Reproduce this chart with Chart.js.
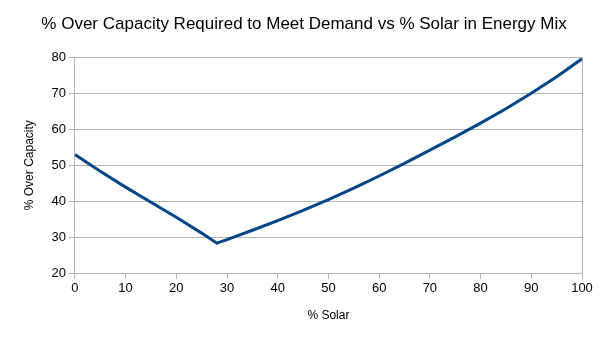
<!DOCTYPE html>
<html>
<head>
<meta charset="utf-8">
<script src="https://cdn.jsdelivr.net/npm/chart.js@4/dist/chart.umd.min.js"></script>
<style>
  html, body { margin: 0; padding: 0; background: #fff; }
  #wrap { width: 605px; height: 340px; }
</style>
</head>
<body>
<div id="wrap"><canvas id="chart"></canvas></div>
<script>
// % solar in the mix and % over capacity needed
const solarPct = [0, 5, 10, 15, 20, 25, 28, 30, 35, 40, 45, 50, 55, 60, 65, 70, 75, 80, 85, 90, 95, 100]
const overCapacity = [53, 48.3, 43.9, 39.7, 35.5, 31.1, 28.3, 29.3, 31.9, 34.6, 37.4, 40.4, 43.6, 47, 50.5, 54.2, 57.9, 61.7, 65.7, 70, 74.6, 79.6]
const xTicks = [0, 10, 20, 30, 40, 50, 60, 70, 80, 90, 100]
const yTicks = [20, 30, 40, 50, 60, 70, 80]

const pts = solarPct.map((x, i) => ({ x: x, y: overCapacity[i] }))
const font = 'Liberation Sans, Arial, sans-serif'
const grey = '#b3b3b3'

const ctx = document.getElementById('chart').getContext('2d')
new Chart(ctx, {
    type: 'scatter',
    data: {
        datasets: [{
            data: pts,
            showLine: true,
            borderColor: '#004586',
            borderWidth: 3,
            pointRadius: 0,
            tension: 0
        }]
    },
    options: {
        responsive: true,
        maintainAspectRatio: false,
        animation: false,
        layout: { padding: { left: 18, right: 15, top: 0, bottom: 13 } },
        plugins: {
            legend: { display: false },
            tooltip: { enabled: false },
            title: {
                display: true,
                text: '% Over Capacity Required to Meet Demand vs % Solar in Energy Mix',
                color: '#000',
                font: { family: font, size: 17, weight: 'normal' },
                padding: { top: 14, bottom: 23 }
            }
        },
        scales: {
            x: {
                type: 'linear',
                min: 0, max: 100,
                afterBuildTicks: axis => { axis.ticks = xTicks.map(v => ({ value: v })) },
                grid: { display: true, drawOnChartArea: false, color: grey, tickLength: 6 },
                border: { color: grey },
                ticks: { color: '#000', font: { family: font, size: 13 }, padding: 2, maxRotation: 0 },
                title: { display: true, text: '% Solar', color: '#000', font: { family: font, size: 12 }, padding: { top: 10 } }
            },
            y: {
                min: 20, max: 80,
                afterBuildTicks: axis => { axis.ticks = yTicks.map(v => ({ value: v })) },
                grid: { color: grey, tickLength: 6 },
                border: { color: grey },
                ticks: { color: '#000', font: { family: font, size: 13 }, padding: 3 },
                title: { display: true, text: '% Over Capacity', color: '#000', font: { family: font, size: 12 }, padding: { bottom: 12 } }
            },
            yRight: {
                position: 'right',
                min: 20, max: 80,
                grid: { display: false },
                border: { display: true, color: grey },
                ticks: { display: false }
            }
        }
    }
})
</script>
</body>
</html>
